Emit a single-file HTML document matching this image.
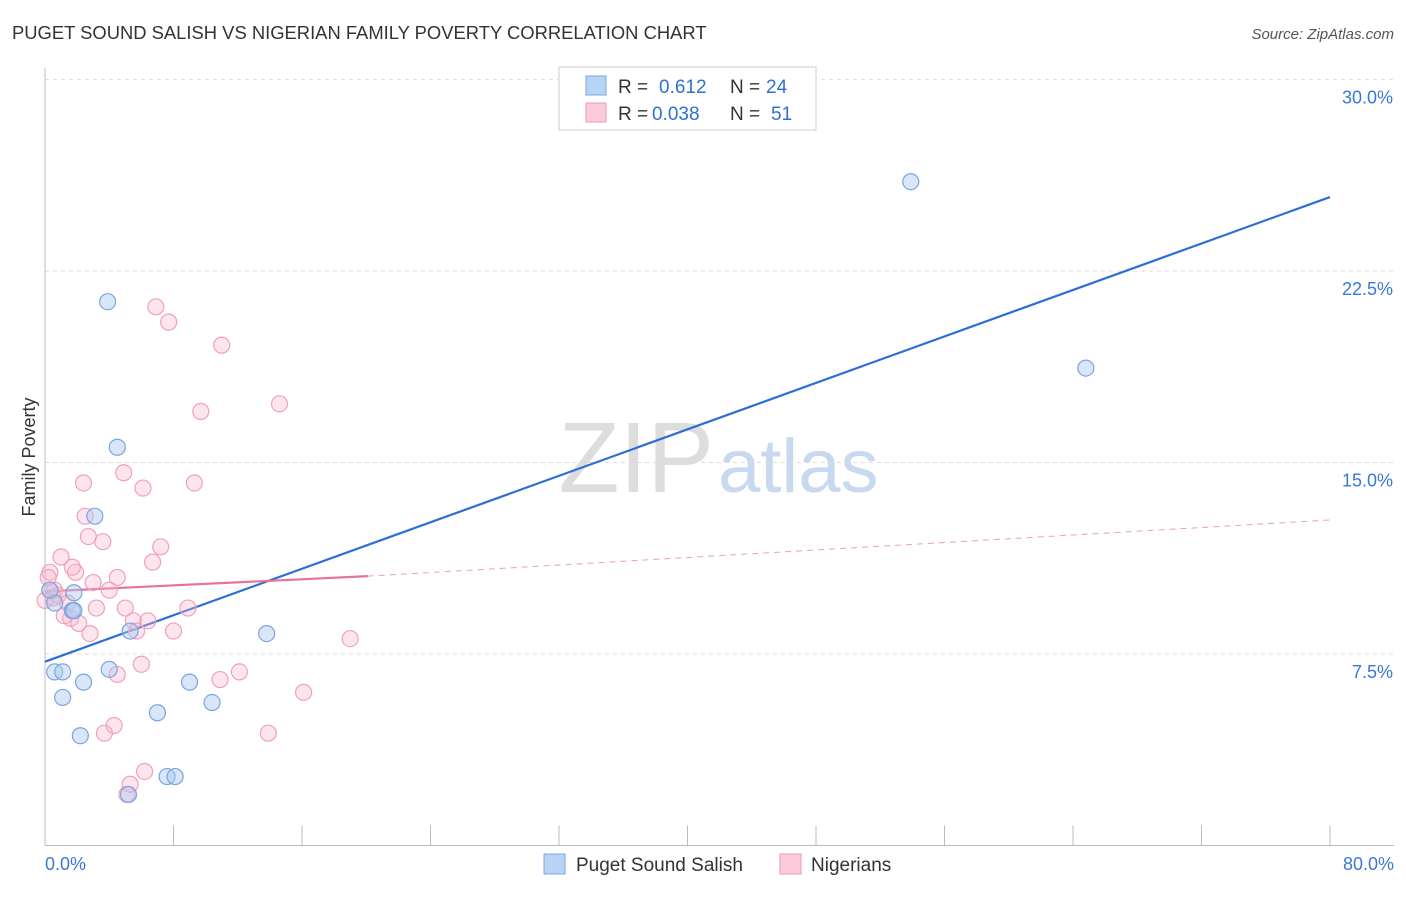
<!DOCTYPE html>
<html><head><meta charset="utf-8">
<style>
body{margin:0;background:#fff;font-family:"Liberation Sans",sans-serif;}
svg text{font-family:"Liberation Sans",sans-serif;}
</style></head>
<body>
<svg width="1406" height="892" xmlns="http://www.w3.org/2000/svg" id="chart">
<text x="12" y="39" font-size="18.4" fill="#333">PUGET SOUND SALISH VS NIGERIAN FAMILY POVERTY CORRELATION CHART</text>
<text x="1394" y="39" font-size="15" fill="#555" font-style="italic" text-anchor="end">Source: ZipAtlas.com</text>
<text x="35" y="457" font-size="18" fill="#333" transform="rotate(-90 35 457)" text-anchor="middle">Family Poverty</text>
<text x="714" y="492" font-size="100" fill="#ddd" text-anchor="end" font-family="Liberation Serif">ZIP</text>
<text x="718" y="492" font-size="76" fill="#c8d8ef">atlas</text>
<g id="grid"></g><g id="axes"></g><g id="lines"></g><g id="pts"></g>
<g>
<rect x="559" y="67" width="257" height="63" fill="#fff" stroke="#ccc"/>
<rect x="586" y="76" width="20" height="19" fill="#b8d4f5" stroke="#7aa7e0"/>
<rect x="586" y="103" width="20" height="19" fill="#fbcadb" stroke="#ee9ab8"/>
<text x="618" y="93" font-size="19" fill="#333">R = </text><text x="659" y="93" font-size="19" fill="#3070d0">0.612</text>
<text x="730" y="93" font-size="19" fill="#333">N = </text><text x="766" y="93" font-size="19" fill="#3070d0">24</text>
<text x="618" y="120" font-size="19" fill="#333">R = </text><text x="652" y="120" font-size="19" fill="#3070d0">0.038</text>
<text x="730" y="120" font-size="19" fill="#333">N = </text><text x="771" y="120" font-size="19" fill="#3070d0">51</text>
</g>
<g>
<rect x="544" y="854" width="21" height="20" fill="#b8d4f5" stroke="#7aa7e0"/>
<text x="576" y="871" font-size="19" fill="#333">Puget Sound Salish</text>
<rect x="780" y="854" width="21" height="20" fill="#fbcadb" stroke="#ee9ab8"/>
<text x="811" y="871" font-size="19" fill="#333">Nigerians</text>
</g>
</svg>
<script>
const xTicks=[0,8,16,24,32,40,48,56,64,72,80];
const yTicks=[7.5,15,22.5,30];
const yTickLabels=["7.5%","15.0%","22.5%","30.0%"];
const blueX=[3.9,4.5,3.1,1.8,0.6,1.7,1.8,5.3,4.0,2.4,0.6,1.1,1.1,2.2,7.0,7.6,8.1,5.2,9.0,10.4,13.8,53.9,64.8,0.3];
const blueY=[21.3,15.6,12.9,9.9,9.5,9.2,9.2,8.4,6.9,6.4,6.8,6.8,5.8,4.3,5.2,2.7,2.7,2.0,6.4,5.6,8.3,26.0,18.7,10.0];
const pinkX=[6.9,7.7,11.0,9.7,14.6,4.9,2.4,6.1,9.3,2.5,2.7,3.6,7.2,1.0,6.7,0.3,1.9,0.2,1.7,4.5,3.0,0.6,0.8,4.0,1.4,3.2,5.0,1.6,2.1,5.5,6.4,2.8,5.7,8.0,8.9,19.0,6.0,4.5,12.1,10.9,16.1,4.3,3.7,13.9,6.2,5.3,5.1,0.0,0.3,1.2,0.5];
const pinkY=[21.1,20.5,19.6,17.0,17.3,14.6,14.2,14.0,14.2,12.9,12.1,11.9,11.7,11.3,11.1,10.7,10.7,10.5,10.9,10.5,10.3,10.0,9.8,10.0,9.5,9.3,9.3,8.9,8.7,8.8,8.8,8.3,8.4,8.4,9.3,8.1,7.1,6.7,6.8,6.5,6.0,4.7,4.4,4.4,2.9,2.4,2.0,9.6,10.0,9.0,9.7];
const X0=45,X1=1330,Y0=845.5,YS=25.53;
const sx=v=>X0+(X1-X0)*v/80, sy=v=>Y0-v*YS;
const NS="http://www.w3.org/2000/svg";
function mk(tag,attrs,parent){const e=document.createElementNS(NS,tag);for(const k in attrs)e.setAttribute(k,attrs[k]);document.getElementById(parent).appendChild(e);return e;}
yTicks.forEach((t,i)=>{
 const l=mk('line',{x1:X0,x2:1394,y1:sy(t),y2:sy(t),stroke:'#ddd','stroke-dasharray':'4,4'},'grid');
 
 
 const tx=mk('text',{x:1393,y:sy(t)+24,'font-size':18,fill:'#3a78d6','text-anchor':'end'},'grid');
 tx.textContent=yTickLabels[i];
 
 
});
const ax=mk('line',{x1:X0,x2:1394,y1:Y0,y2:Y0,stroke:'#bbb'},'axes');


const ay=mk('line',{x1:X0,x2:X0,y1:68,y2:Y0,stroke:'#bbb'},'axes');


xTicks.forEach(t=>{const l=mk('line',{x1:sx(t),x2:sx(t),y1:Y0,y2:Y0-20,stroke:'#bbb'},'axes');
 
 });
[["0.0%",X0,'start'],["80.0%",1394,'end']].forEach(([s,x,a])=>{const t=mk('text',{x:x,y:870,'font-size':18,fill:'#3a78d6','text-anchor':a},'axes');t.textContent=s;
 
 });
const bl=mk('line',{x1:sx(0),y1:sy(7.2),x2:sx(80),y2:sy(25.4),stroke:'#2a6fd6','stroke-width':2.2},'lines');


const pl=mk('line',{x1:sx(0),y1:sy(9.95),x2:sx(20.1),y2:sy(10.55),stroke:'#e8739a','stroke-width':2.2},'lines');


const pd=mk('line',{x1:sx(20.1),y1:sy(10.55),x2:sx(80),y2:sy(12.75),stroke:'#e8a0b8','stroke-width':1,'stroke-dasharray':'6,5'},'lines');


pinkX.forEach((x,i)=>{const c=mk('circle',{cx:sx(x),cy:sy(pinkY[i]),r:8,fill:'rgba(248,180,205,0.35)',stroke:'#f0a0bd','stroke-width':1.2},'pts');
 
 });
blueX.forEach((x,i)=>{const c=mk('circle',{cx:sx(x),cy:sy(blueY[i]),r:8,fill:'rgba(170,200,240,0.45)',stroke:'#7aa5dd','stroke-width':1.2},'pts');
 
 });
</script>
</body></html>
